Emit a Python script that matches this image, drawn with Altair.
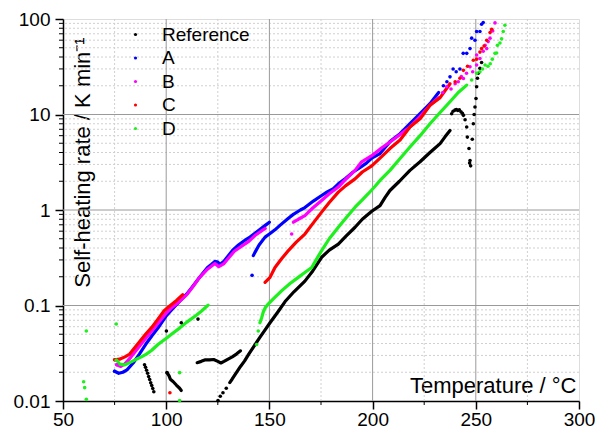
import altair as alt
import pandas as pd

# ---------------- data ----------------
SERIES = ["Reference", "A", "B", "C", "D"]
COLORS = ["#000000", "#0000ff", "#ff00ff", "#ff0000", "#1ef01e"]

# Reference (black)
REF_desc1_T = [89.5, 90.0, 90.5, 91.0, 91.5, 92.0, 92.5, 93.0, 93.5, 94.0]
REF_desc1_v = [0.024, 0.0225, 0.021, 0.0195, 0.018, 0.0168, 0.0155, 0.0145, 0.0135, 0.0125]
REF_desc2_T = [100.4, 101.4, 102.0, 103.3, 104.9, 106.5, 107.3]
REF_desc2_v = [0.0198, 0.0183, 0.0169, 0.0160, 0.0147, 0.0136, 0.0129]
REF_flat_T = [115.0, 117.0, 119.0, 121.0, 123.0, 125.0, 126.5, 128.0, 130.0, 132.0, 134.0, 136.0]
REF_flat_v = [0.0252, 0.026, 0.027, 0.027, 0.0272, 0.026, 0.025, 0.026, 0.0275, 0.029, 0.031, 0.0335]
REF_low_T = [125.1, 126.2, 127.5, 129.1]
REF_low_v = [0.0101, 0.0112, 0.0122, 0.0136]
REF_rise_T = [130.8, 132.0, 134.0, 136.0, 138.0, 140.0, 142.1, 145.3, 148.0, 150.3, 154.0, 157.6,
              162.0, 167.2, 171.0, 175.3, 179.0, 183.4, 187.0, 191.5, 195.0, 199.6, 203.6, 206.0,
              208.4, 213.0, 218.1, 223.0, 227.8, 230.0, 232.7, 235.0, 237.5]
REF_rise_v = [0.0156, 0.017, 0.0198, 0.023, 0.0263, 0.031, 0.0363, 0.046, 0.056, 0.066, 0.085, 0.11,
              0.14, 0.18, 0.23, 0.32, 0.38, 0.44, 0.53, 0.66, 0.80, 0.97, 1.11, 1.35,
              1.6, 2.0, 2.6, 3.2, 4.0, 4.4, 4.95, 5.8, 6.8]
REF_iso_T = [100.1, 107.3, 115.4]
REF_iso_v = [0.054, 0.066, 0.072]
REF_top_T = [238.3, 239.0, 239.9, 240.6, 241.3, 242.0, 242.8, 243.5, 244.0, 244.8, 245.6, 245.9, 246.7,
             247.2, 247.5, 247.0, 248.3, 248.8, 249.2, 249.6, 250.1, 250.4, 250.8, 251.2, 252.0, 252.8]
REF_top_v = [10.2, 10.8, 11.1, 11.3, 11.0, 11.2, 10.7, 10.3, 9.8, 8.8, 7.4, 5.8, 4.4,
             3.3, 2.9, 3.1, 5.5, 8.0, 10.0, 12.0, 14.7, 19.5, 24.0, 27.0, 30.5, 35.0]

# A (blue)
A1_T = [75, 77, 79, 81, 84, 87, 90, 93, 96, 100, 103, 106, 110, 113, 116, 120, 122, 123.6, 125,
        126.1, 128, 130, 132.5, 135, 138, 140.6, 143, 146, 148, 150]
A1_v = [0.0205, 0.0195, 0.020, 0.0212, 0.025, 0.031, 0.039, 0.048, 0.058, 0.078, 0.092, 0.108, 0.132,
        0.16, 0.195, 0.25, 0.27, 0.29, 0.285, 0.27, 0.29, 0.33, 0.385, 0.43, 0.48, 0.52, 0.57, 0.64,
        0.69, 0.745]
A2_T = [142.2, 143, 145, 147.9, 150, 152.7, 155.1, 159.2, 161.6, 165, 167.2, 171.3, 175.3, 178, 181,
        183.4, 187, 190.6, 194, 197, 199.6, 203.6, 208.4, 213.3, 218.1, 223, 227.8, 232]
A2_v = [0.333, 0.36, 0.43, 0.52, 0.56, 0.62, 0.69, 0.82, 0.9, 1.0, 1.06, 1.24, 1.42, 1.55, 1.67,
        1.88, 2.15, 2.5, 2.8, 3.1, 3.5, 3.9, 5.2, 6.3, 8.0, 10.2, 13.0, 17.0]
A_top_T = [234.3, 236, 237.5, 239, 240.5, 242.3, 243.9, 245.6, 247.2, 248, 249.6, 250.4, 252, 252.8, 253.6]
A_top_v = [20, 22, 24.8, 30, 28, 30, 43.7, 43.7, 49, 63, 60, 74, 74, 88, 92]
A_iso_T = [141.6]
A_iso_v = [0.207]

# B (magenta)
B1_T = [76, 78, 80, 83, 86, 90, 93, 96, 100, 103, 106, 110, 113, 116, 120, 123.6, 125.5, 128, 130,
        133, 136, 140, 143, 146, 148]
B1_v = [0.024, 0.023, 0.0245, 0.029, 0.035, 0.045, 0.054, 0.065, 0.083, 0.096, 0.108, 0.13, 0.158,
        0.195, 0.24, 0.275, 0.255, 0.275, 0.31, 0.37, 0.41, 0.47, 0.54, 0.6, 0.64]
B2_T = [161.6, 164, 167.2, 171, 175.3, 179, 183.4, 187, 191.5, 194.7, 199.6, 204, 208.4, 213, 218.1,
        223, 227.8, 232]
B2_v = [0.745, 0.8, 0.875, 1.05, 1.26, 1.48, 1.74, 2.1, 2.6, 3.2, 3.7, 4.4, 5.15, 6.1, 7.4, 9.5, 12.5, 15]
B_top_T = [234, 235.9, 238, 240, 241.5, 243, 244, 245.5, 247.2, 248.5, 250.4, 250.4, 252, 253.6, 254.5,
           255.3, 256, 256.9, 257.7, 258.2, 259.3]
B_top_v = [17, 19.5, 18.5, 21, 22, 25, 23.8, 27, 31.6, 28, 33, 42, 38.6, 46, 53, 49, 58, 63, 76, 75, 91]
B_iso_T = [160.8]
B_iso_v = [0.56]

# C (red)
C1_T = [75, 77.4, 80, 82.3, 86, 90, 93, 96, 99, 102, 105, 108]
C1_v = [0.027, 0.0274, 0.029, 0.031, 0.039, 0.050, 0.059, 0.072, 0.088, 0.1, 0.113, 0.13]
C2_T = [147.9, 150.3, 152.7, 156, 159.2, 163, 167.2, 171, 175.3, 179, 183.4, 187, 191.5, 195, 199.6,
        203.6, 208.4, 213.3, 218.1, 223, 227.8, 232.7, 237.5]
C2_v = [0.175, 0.197, 0.25, 0.31, 0.376, 0.46, 0.56, 0.72, 0.95, 1.2, 1.54, 1.8, 2.12, 2.5, 2.9,
        3.5, 4.4, 5.4, 7.4, 9.0, 12.5, 15.0, 21.0]
C_top_T = [240, 242.3, 244, 246, 248.8, 250.4, 252, 252.8, 254, 255.3, 256.9, 257.7]
C_top_v = [22, 24, 29, 32, 37, 38, 45, 49, 52, 60, 72, 78]
C_iso_T = [101.8]
C_iso_v = [0.0122]

# D (green)
D1_T = [75.8, 76.5, 77.4, 79, 80, 82.3, 85, 88, 90.4, 93, 96, 100.4, 103, 106.5, 110, 114.6, 117, 120.3]
D1_v = [0.0267, 0.026, 0.0243, 0.024, 0.0239, 0.0252, 0.027, 0.029, 0.031, 0.034, 0.039, 0.046,
        0.051, 0.058, 0.067, 0.079, 0.087, 0.101]
D2_T = [145.4, 146.3, 147, 148, 149.5, 152, 156, 160, 164, 167, 170.5, 173, 175.3, 179, 183.4, 187,
        191.5, 195, 197.9, 201, 203.6, 208.4, 213, 218.1, 223, 227.8, 232.7, 237.5, 241.5, 245.6]
D2_v = [0.066, 0.075, 0.085, 0.095, 0.104, 0.118, 0.143, 0.17, 0.197, 0.22, 0.25, 0.31, 0.376, 0.5,
        0.66, 0.82, 1.07, 1.28, 1.48, 1.75, 2.04, 2.6, 3.4, 4.57, 6.0, 8.0, 10.5, 13.6, 17.0, 20.3]
D_top_T = [248, 250.4, 252, 253.3, 254.5, 255.9, 257, 258, 259.3, 260.1, 260.5, 261.7, 262.5, 263.3, 264.1]
D_top_v = [23, 27, 28, 30, 33, 32, 34, 38, 43.7, 44, 53, 56, 62, 74, 86]
D_iso_T = [60.0, 60.5, 61.3, 61.3, 75.8, 106.5, 106.5, 143.8, 144.6]
D_iso_v = [0.0159, 0.0138, 0.0104, 0.054, 0.064, 0.0198, 0.0101, 0.039, 0.054]

# axis ticks / grid positions
X_MAJOR = [50, 100, 150, 200, 250, 300]
X_GRID = [100, 150, 200, 250]
X_MINOR = [75, 125, 175, 225, 275]
Y_MAJOR = [0.01, 0.1, 1, 10, 100]
Y_GRID = [0.1, 1, 10]
DECADES = [0.01, 0.1, 1, 10]
MULTS = [2, 3, 4, 5, 6, 7, 8, 9]
Y_MINOR = [round(d * m, 4) for d in DECADES for m in MULTS]

# ---------------- build table ----------------
pieces = [
    ("Reference", "r1", "dot", REF_desc1_T, REF_desc1_v),
    ("Reference", "r2", "line", REF_desc2_T, REF_desc2_v),
    ("Reference", "r3", "line", REF_flat_T, REF_flat_v),
    ("Reference", "r4", "dot", REF_low_T, REF_low_v),
    ("Reference", "r5", "line", REF_rise_T, REF_rise_v),
    ("Reference", "r6", "dot", REF_iso_T, REF_iso_v),
    ("Reference", "r7", "dot", REF_top_T, REF_top_v),
    ("A", "a1", "line", A1_T, A1_v),
    ("A", "a2", "line", A2_T, A2_v),
    ("A", "a3", "dot", A_top_T, A_top_v),
    ("A", "a4", "dot", A_iso_T, A_iso_v),
    ("B", "b1", "line", B1_T, B1_v),
    ("B", "b2", "line", B2_T, B2_v),
    ("B", "b3", "dot", B_top_T, B_top_v),
    ("B", "b4", "dot", B_iso_T, B_iso_v),
    ("C", "c1", "line", C1_T, C1_v),
    ("C", "c2", "line", C2_T, C2_v),
    ("C", "c3", "dot", C_top_T, C_top_v),
    ("C", "c4", "dot", C_iso_T, C_iso_v),
    ("D", "d1", "line", D1_T, D1_v),
    ("D", "d2", "line", D2_T, D2_v),
    ("D", "d3", "dot", D_top_T, D_top_v),
    ("D", "d4", "dot", D_iso_T, D_iso_v),
]
rows = []
i = 0
for s, seg, kind, T, V in pieces:
    for t, v in zip(T, V):
        rows.append({"T": t, "rate": v, "series": s, "seg": seg, "kind": kind, "i": i})
        i += 1
df = pd.DataFrame(rows)
df_line = df[df.kind == "line"]
df_dot = pd.concat([df[df.kind == "dot"], df[df.kind == "line"].groupby("series").head(1)])

W, H = 516, 382
FONT = "Liberation Sans"

xscale = alt.Scale(domain=[50, 300], nice=False, zero=False)
yscale = alt.Scale(type="log", domain=[0.01, 100], nice=False)

x_axis = alt.Axis(values=X_MAJOR, title="Temperature / °C", grid=False, tickSize=8, tickWidth=1.5,
                  domainWidth=1.5, domainColor="black", tickColor="black", labelColor="black",
                  labelFont=FONT, labelFontSize=19, labelPadding=1, titleFont=FONT, titleFontSize=22,
                  titleFontWeight="normal", titleColor="black", titleX=513, titleY=-9,
                  titleAlign="right", titleBaseline="alphabetic", titleAngle=0, labelFlush=False)
y_axis = alt.Axis(values=Y_MAJOR, format="~g", title="Self-heating rate / K min⁻¹", grid=False,
                  tickSize=8, tickWidth=1.5, domainWidth=1.5, domainColor="black", tickColor="black",
                  labelColor="black", labelFont=FONT, labelFontSize=19, labelPadding=5,
                  titleFont=FONT, titleFontSize=22, titleFontWeight="normal", titleColor="black",
                  titleX=26, titleY=143, titleAngle=270, titleAlign="center",
                  titleBaseline="alphabetic", labelFlush=False)


def X(field="T:Q"):
    return alt.X(field, scale=xscale, axis=x_axis)


def Y(field="rate:Q"):
    return alt.Y(field, scale=yscale, axis=y_axis)


minor_y = alt.Chart(pd.DataFrame({"rate": Y_MINOR})).mark_rule(
    color="#d0d0d0", strokeWidth=1, strokeDash=[2, 2]).encode(y=Y())
minor_x = alt.Chart(pd.DataFrame({"T": X_MINOR})).mark_rule(
    color="#d0d0d0", strokeWidth=1, strokeDash=[2, 2]).encode(x=X())
grid_y = alt.Chart(pd.DataFrame({"rate": Y_GRID})).mark_rule(
    color="#9a9a9a", strokeWidth=1).encode(y=Y())
grid_x = alt.Chart(pd.DataFrame({"T": X_GRID})).mark_rule(
    color="#9a9a9a", strokeWidth=1).encode(x=X())

tick_y = alt.Chart(pd.DataFrame({"rate": Y_MINOR})).mark_rule(color="black", strokeWidth=1).encode(
    y=Y(), x=alt.value(-4), x2=alt.value(0))
tick_x = alt.Chart(pd.DataFrame({"T": X_MINOR})).mark_rule(color="black", strokeWidth=1).encode(
    x=X(), y=alt.value(H), y2=alt.value(H + 4))

line_layers = []
for s, c in zip(SERIES, COLORS):
    line_layers.append(
        alt.Chart(df_line[df_line.series == s]).mark_line(
            strokeWidth=3.2, strokeJoin="round", strokeCap="round", color=c).encode(
            x=X(), y=Y(), detail="seg:N", order="i:Q")
    )

dots = alt.Chart(df_dot).mark_circle(size=13, opacity=1).encode(
    x=X(), y=Y(),
    color=alt.Color("series:N", scale=alt.Scale(domain=SERIES, range=COLORS), sort=SERIES,
                    legend=alt.Legend(orient="none", legendX=63, legendY=6, title=None,
                                      labelFont=FONT, labelFontSize=19, labelColor="black",
                                      symbolSize=10, symbolType="circle", rowPadding=3.5,
                                      labelOffset=17, symbolStrokeWidth=0)),
)

chart = alt.layer(minor_y, minor_x, grid_y, grid_x, *line_layers, dots, tick_y, tick_x).properties(
    width=W, height=H,
    autosize=alt.AutoSizeParams(type="none"),
    padding={"left": 63, "top": 19, "right": 16, "bottom": 31},
).configure_view(strokeWidth=0).configure(background="white")

chart.save("out.html", embed_options={"renderer": "svg", "actions": False})
